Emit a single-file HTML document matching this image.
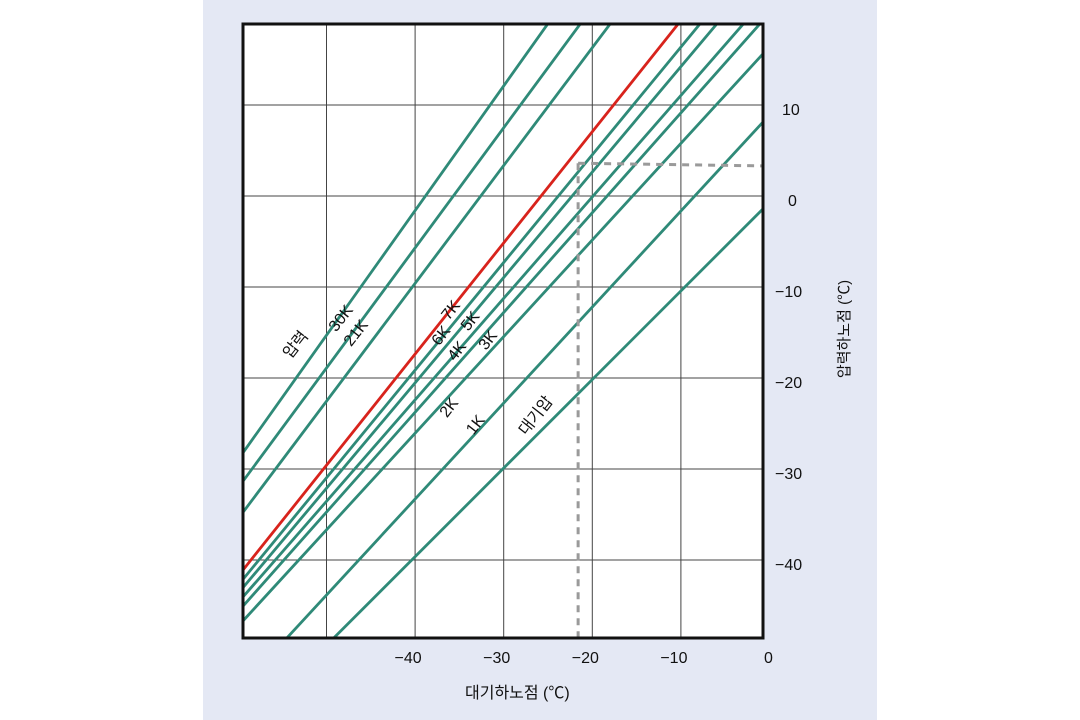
<!DOCTYPE html>
<html><head><meta charset="utf-8">
<style>
html,body{margin:0;padding:0;background:#fff;}
svg{display:block;font-family:"Liberation Sans","Noto Sans CJK KR",sans-serif;}
</style></head>
<body>
<svg id="chart" width="1080" height="720" viewBox="0 0 1080 720">
  <rect x="203" y="0" width="674" height="720" fill="#e4e8f4"/>
  <defs><clipPath id="plotclip"><rect x="243" y="24" width="520" height="614"/></clipPath></defs>
  <rect x="243" y="24" width="520" height="614" fill="#fff"/>
  <g id="grid"></g>
  <g id="lines" clip-path="url(#plotclip)"></g>
  <g id="ref" clip-path="url(#plotclip)"></g>
  <rect x="243" y="24" width="520" height="614" fill="none" stroke="#111" stroke-width="3"/>
  <g id="xticks"></g>
  <g id="yticks"></g>
  <g id="labels"></g>
  <text x="465" y="698" font-size="16" fill="#111">대기하노점 (℃)</text>
  <text x="0" y="0" font-size="15" fill="#111" text-anchor="middle" transform="translate(849,329) rotate(-90)">압력하노점 (℃)</text>
</svg>
<script>
// data
const xTicks = [-40, -30, -20, -10, 0];
const xGrid = [-50, -40, -30, -20, -10];
const yTicks = [10, 0, -10, -20, -30, -40];
const lineNames = ["line-a","line-30k","line-21k","line-7k","line-6k","line-5k","line-4k","line-3k","line-2k","line-1k","line-atm"];
const yAtMinus60 = [-29.0, -32.1, -35.5, -41.8, -42.8, -43.7, -44.7, -45.7, -47.3, -54.4, -59.1];
const yAtZero    = [53.2, 47.1, 42.2, 31.5, 28.2, 25.8, 22.2, 20.1, 16.4, 8.9, -0.7];
const highlight  = [false,false,false,true,false,false,false,false,false,false,false];
const refX = -21.6;
const refY0 = 3.6;
const refY1 = 3.3;
const labelTexts = ["압력","30K","21K","7K","6K","5K","4K","3K","2K","1K","대기압"];
const labelX = [-53.4, -48.3, -46.6, -35.9, -37.0, -33.7, -35.2, -31.7, -36.1, -33.1, -26.3];
const labelY = [-16.4, -13.5, -15.1, -12.6, -15.4, -13.8, -17.1, -15.9, -23.3, -25.2, -24.2];

// scales
const sx = v => 769.5 + v * 8.86;
const sy = v => 196 - v * 9.1;
const NS = "http://www.w3.org/2000/svg";
function mk(tag, attrs, parent){ const e=document.createElementNS(NS,tag); for(const k in attrs) e.setAttribute(k,attrs[k]); parent.appendChild(e); return e; }

const grid = document.getElementById('grid');
xGrid.forEach(v=>{
  const l = mk('line',{x1:sx(v),x2:sx(v),y1:24,y2:638,stroke:'#444','stroke-width':1},grid);
  
  
});
yTicks.forEach(v=>{
  const l = mk('line',{x1:243,x2:763,y1:sy(v),y2:sy(v),stroke:'#444','stroke-width':1},grid);
  
  
});

const lg = document.getElementById('lines');
lineNames.forEach((n,i)=>{
  const l = mk('line',{x1:sx(-60),y1:sy(yAtMinus60[i]),x2:sx(0),y2:sy(yAtZero[i]),stroke:highlight[i]?'#d8231c':'#2f8a78','stroke-width':2.8},lg);
  
  
});

const rg = document.getElementById('ref');
const v1 = mk('line',{x1:sx(refX),y1:sy(refY0),x2:sx(refX),y2:640,stroke:'#9a9a9a','stroke-width':3,'stroke-dasharray':'7,6'},rg);


const h1 = mk('line',{x1:sx(refX),y1:sy(refY0),x2:sx(0),y2:sy(refY1),stroke:'#9a9a9a','stroke-width':3,'stroke-dasharray':'7,6'},rg);



const xt = document.getElementById('xticks');
xTicks.forEach(v=>{
  const t = mk('text',{x:sx(v)-(v<0?7:1),y:663,'font-size':16,fill:'#111','text-anchor':'middle'},xt);
  t.textContent = v<0 ? '\u2212'+Math.abs(v) : String(v);
  
  
});
const yt = document.getElementById('yticks');
yTicks.forEach(v=>{
  const t = mk('text',{x:v<0?775:(v===0?788:782),y:sy(v)+10,'font-size':16,fill:'#111'},yt);
  t.textContent = v<0 ? '\u2212'+Math.abs(v) : String(v);
  
  
});

const lb = document.getElementById('labels');
labelTexts.forEach((s,i)=>{
  const t = mk('text',{x:0,y:0,'font-size':16,fill:'#111','text-anchor':'middle','dominant-baseline':'middle',transform:`translate(${sx(labelX[i])},${sy(labelY[i])}) rotate(-52)`},lb);
  t.textContent = s;
  
  
});
</script>
</body></html>
